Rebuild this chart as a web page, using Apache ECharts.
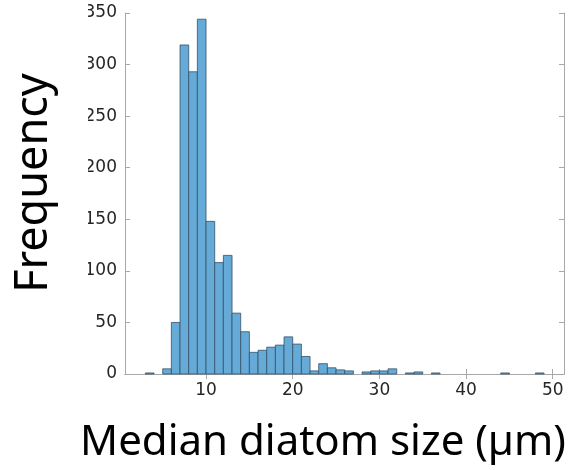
<!DOCTYPE html>
<html>
<head>
<meta charset="utf-8">
<script src="https://cdn.jsdelivr.net/npm/echarts@6/dist/echarts.min.js"></script>
<style>
html,body{margin:0;padding:0;background:#fff;}
#c{width:579px;height:470px;}
</style>
</head>
<body>
<div id="c"></div>
<script>
// Bin left edges (µm), bin width 1
var binStarts = [0,1,2,3,4,5,6,7,8,9,10,11,12,13,14,15,16,17,18,19,20,21,22,23,24,25,26,27,28,29,30,31,32,33,34,35,36,37,38,39,40,41,42,43,44,45,46,47,48,49];
var counts =    [0,0,0,1,0,5,50,319,293,344,148,108,115,59,41,21,23,26,28,36,29,17,3,10,6,4,3,0,2,3,3,5,0,1,2,0,1,0,0,0,0,0,0,0,1,0,0,0,1,0];
var binWidth = 1;
var xTicks = [10,20,30,40,50];
var xTitle = 'Median diatom size (µm)';
var yTitle = 'Frequency';

var data = [];
for (var i = 0; i < binStarts.length; i++) {
  if (counts[i] > 0) data.push([binStarts[i], binStarts[i] + binWidth, counts[i]]);
}

var axisCol = '#a8a8a8';
var labCol = '#262626';
var labFont = 'DejaVu Sans';

var chart = echarts.init(document.getElementById('c'), null, {renderer: 'canvas'});
var common = {
  type: 'value', min: 0.65, max: 51.3,
  axisLine: {show: true, lineStyle: {color: axisCol, width: 1}},
  splitLine: {show: false}
};
chart.setOption({
  animation: false,
  backgroundColor: '#fff',
  grid: {left: 125, right: 15, top: 13, bottom: 96},
  xAxis: [
    Object.assign({}, common, {
      position: 'bottom',
      axisTick: {show: true, inside: true, length: 5, lineStyle: {color: axisCol}, customValues: xTicks},
      axisLabel: {show: true, margin: 8, color: labCol, fontFamily: labFont, fontSize: 17, customValues: xTicks}
    }),
    Object.assign({}, common, {
      position: 'top',
      axisTick: {show: true, inside: true, length: 5, lineStyle: {color: axisCol}, customValues: xTicks},
      axisLabel: {show: false}
    })
  ],
  yAxis: [
    {
      type: 'value', min: 0, max: 350, interval: 50, position: 'left',
      axisLine: {show: true, lineStyle: {color: axisCol, width: 1}},
      axisTick: {show: true, inside: true, length: 5, lineStyle: {color: axisCol}},
      axisLabel: {show: true, margin: 8, color: labCol, fontFamily: labFont, fontSize: 17},
      splitLine: {show: false}
    },
    {
      type: 'value', min: 0, max: 350, interval: 50, position: 'right',
      axisLine: {show: true, lineStyle: {color: axisCol, width: 1}},
      axisTick: {show: true, inside: true, length: 5, lineStyle: {color: axisCol}},
      axisLabel: {show: false},
      splitLine: {show: false}
    }
  ],
  series: [{
    type: 'custom',
    xAxisIndex: 0, yAxisIndex: 0,
    data: data,
    renderItem: function (params, api) {
      var p0 = api.coord([api.value(0), 0]);
      var p1 = api.coord([api.value(1), api.value(2)]);
      return {
        type: 'rect',
        shape: {x: p0[0], y: p1[1], width: p1[0] - p0[0], height: p0[1] - p1[1]},
        style: {fill: '#66aad7', stroke: '#34506a', lineWidth: 0.8}
      };
    },
    z: 3
  }],
  graphic: [
    {type: 'rect', left: 0, top: 0, shape: {width: 88, height: 300}, style: {fill: '#fff'}, z: 50},
    {type: 'text', z: 60, x: 57, y: 183, rotation: Math.PI / 2,
      style: {text: yTitle, fontFamily: 'Noto Sans', fontSize: 45, fill: '#000', align: 'center', verticalAlign: 'bottom'}},
    {type: 'text', z: 60, x: 323, y: 443,
      style: {text: xTitle, fontFamily: 'Noto Sans', fontSize: 42, fill: '#000', align: 'center', verticalAlign: 'middle'}}
  ]
});
</script>
</body>
</html>
